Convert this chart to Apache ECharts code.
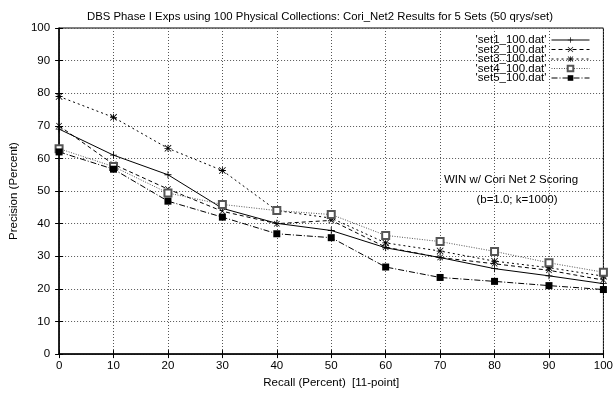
<!DOCTYPE html>
<html><head><meta charset="utf-8">
<script src="https://cdn.jsdelivr.net/npm/echarts@6/dist/echarts.min.js"></script>
<style>html,body{margin:0;padding:0;background:#fff}#c{width:616px;height:394px}</style>
</head><body><div id="c"></div>
<script>
const recall = [0, 10, 20, 30, 40, 50, 60, 70, 80, 90, 100];
const set1 = [69, 61, 55, 44.7, 40.1, 37.9, 32.6, 29.6, 26.2, 24.0, 21.6];
const set2 = [70, 58.2, 50.6, 43.8, 40, 41, 32.8, 29.6, 27.7, 25.7, 22.7];
const set3 = [79, 72.6, 63.1, 56.3, 44, 41.7, 34.1, 31.6, 28.5, 26.5, 23.9];
const set4 = [63, 57.5, 49.4, 45.9, 44, 42.8, 36.4, 34.5, 31.5, 28, 25.1];
const set5 = [62, 56.7, 46.9, 42, 36.9, 35.7, 26.7, 23.5, 22.3, 21, 19.8];
const names = ["'set1_100.dat'", "'set2_100.dat'", "'set3_100.dat'", "'set4_100.dat'", "'set5_100.dat'"];
const titleText = 'DBS Phase I Exps using 100 Physical Collections: Cori_Net2 Results for 5 Sets (50 qrys/set)';
const xName = 'Recall (Percent)  [11-point]';
const yName = 'Precision (Percent)';
const note1 = 'WIN w/ Cori Net 2 Scoring';
const note2 = '(b=1.0; k=1000)';

const FONT = 'Liberation Sans';
const plus = 'path://M0,4.4h10v1.2h-10z M4.4,0h1.2v10h-1.2z';
const cross = 'path://M0.8,0L10,9.2L9.2,10L0,0.8z M9.2,0L10,0.8L0.8,10L0,9.2z';
const star = 'path://M0,4.4h10v1.2h-10z M4.4,0h1.2v10h-1.2z M0.8,0L10,9.2L9.2,10L0,0.8z M9.2,0L10,0.8L0.8,10L0,9.2z';

function pairs(v){ return recall.map((r,i)=>[r, v[i]]); }

const styles = [
  {data:set1, symbol:plus, size:7, color:'#000', type:'solid', fill:'#000'},
  {data:set2, symbol:cross, size:6, color:'#000', type:[4,3], fill:'#000'},
  {data:set3, symbol:star, size:7, color:'#000', type:[2,3], fill:'#000'},
  {data:set4, symbol:'emptyRect', size:7, color:'#555', type:[1,1.5], fill:'#555'},
  {data:set5, symbol:'rect', size:7, color:'#000', type:[6,2,1,2], fill:'#000'}
];

const series = styles.map((s,i)=>({
  name: names[i], type:'line', data: pairs(s.data),
  symbol: s.symbol, symbolSize: s.size, showAllSymbol:true,
  itemStyle:{color:s.fill, borderColor:s.color, borderWidth: s.symbol==='emptyRect'?1:0},
  lineStyle:{color:s.color, width:1, type:s.type},
  animation:false, z: 3
}));

const chart = echarts.init(document.getElementById('c'), null, {renderer:'canvas'});
const gridLine = {show:true, lineStyle:{color:'#555', type:[1,2], width:1}};
chart.setOption({
  backgroundColor:'#fff',
  animation:false,
  textStyle:{fontFamily:FONT},
  title:{text:titleText, left:82, top:6, textStyle:{fontFamily:FONT, fontSize:11.35, fontWeight:'normal', color:'#000'}},
  grid:{left:56, top:28, right:10, bottom:38, show:true, borderColor:'#000', borderWidth:1},
  legend:{orient:'vertical', right:26, top:34, padding:0, itemGap:-2.5, itemWidth:38, itemHeight:7, align:'right',
    lineStyle:{width:1},
    textStyle:{fontFamily:FONT, fontSize:11.5, color:'#000'},
    data:names},
  xAxis:[
    {type:'value', min:0, max:100, interval:10, name:xName, nameLocation:'middle', nameGap:21,
     nameTextStyle:{fontFamily:FONT, fontSize:11.5, color:'#000'},
     axisLine:{show:true, lineStyle:{color:'#000', width:1.5}}, axisTick:{show:true, inside:true, length:4, lineStyle:{color:'#000'}},
     axisLabel:{fontFamily:FONT, fontSize:11.5, color:'#000', margin:6}, splitLine:gridLine},
    {type:'value', min:0, max:100, interval:10, position:'top',
     axisLine:{show:false}, axisTick:{show:true, inside:true, length:4, lineStyle:{color:'#000'}},
     axisLabel:{show:false}, splitLine:{show:false}}
  ],
  yAxis:[
    {type:'value', min:0, max:100, interval:10, name:yName, nameLocation:'middle', nameGap:33,
     nameTextStyle:{fontFamily:FONT, fontSize:11.5, color:'#000'},
     axisLine:{show:true, lineStyle:{color:'#000', width:1.5}}, axisTick:{show:true, inside:true, length:4, lineStyle:{color:'#000'}},
     axisLabel:{fontFamily:FONT, fontSize:11.5, color:'#000', margin:9}, splitLine:gridLine},
    {type:'value', min:0, max:100, interval:10, position:'right',
     axisLine:{show:false}, axisTick:{show:true, inside:true, length:4, lineStyle:{color:'#000'}},
     axisLabel:{show:false}, splitLine:{show:false}}
  ],
  graphic:[
    {type:'text', x:511, y:180, style:{text:note1, fontFamily:FONT, fontSize:11.5, fill:'#000', align:'center', verticalAlign:'middle'}},
    {type:'text', x:517, y:200, style:{text:note2, fontFamily:FONT, fontSize:11.5, fill:'#000', align:'center', verticalAlign:'middle'}}
  ],
  series: series
});
</script></body></html>
